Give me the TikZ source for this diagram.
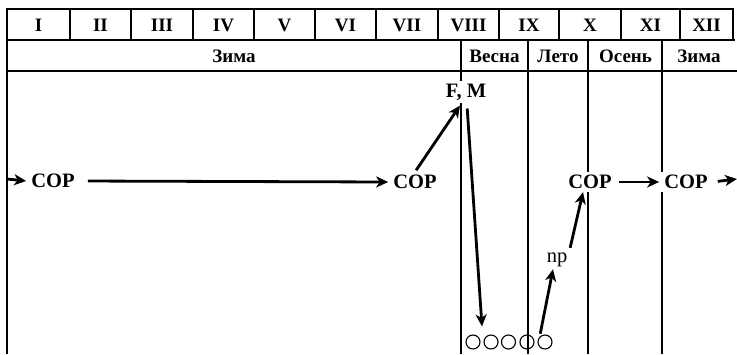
\documentclass[tikz,border=0pt]{standalone}
\usepackage{fontspec}
\setmainfont{Liberation Serif}
\usetikzlibrary{arrows.meta,positioning,calc}

\tikzset{
  hdr/.style={font=\fontsize{19}{22}\selectfont\bfseries,inner sep=0pt},
  stage/.style={font=\fontsize{20.5}{23}\selectfont\bfseries,fill=white,inner xsep=5pt,inner ysep=3pt},
  larva/.style={draw,circle,line width=1.1pt,minimum size=14pt,inner sep=0pt},
  frame/.style={line width=1.8pt},
  divider/.style={line width=1.2pt},
  flow/.style={->,line width=2.8pt}
}

\begin{document}
\begin{tikzpicture}[>={Stealth[length=12pt,width=11pt,inset=3.5pt]},x=1pt,y=-1pt]
\useasboundingbox (0,0) rectangle (737,354);
% table frame
\draw[frame] (7,354) -- (7,9) -- (733,9) -- (733,40);
\draw[frame] (7,40) -- (735,40);
\draw[frame] (7,71) -- (737,71);
\draw[frame] (70,9) -- (70,40);
\draw[frame] (131,9) -- (131,40);
\draw[frame] (193,9) -- (193,40);
\draw[frame] (254,9) -- (254,40);
\draw[frame] (315,9) -- (315,40);
\draw[frame] (376,9) -- (376,40);
\draw[frame] (438,9) -- (438,40);
\draw[frame] (499,9) -- (499,40);
\draw[frame] (559,9) -- (559,40);
\draw[frame] (621,9) -- (621,40);
\draw[frame] (680,9) -- (680,40);
% season borders
\draw[divider] (461,40) -- (461,354);
\draw[divider] (528,40) -- (528,354);
\draw[divider] (588,40) -- (588,354);
\draw[divider] (662,40) -- (662,354);
% months
\node[hdr] (m1) at (38.5,25) {I};
\node[hdr] (m2) at (100.5,25) {II};
\node[hdr] (m3) at (162,25) {III};
\node[hdr] (m4) at (223.5,25) {IV};
\node[hdr] (m5) at (284.5,25) {V};
\node[hdr] (m6) at (345.5,25) {VI};
\node[hdr] (m7) at (407,25) {VII};
\node[hdr] (m8) at (468.5,25) {VIII};
\node[hdr] (m9) at (529,25) {IX};
\node[hdr] (m10) at (590,25) {X};
\node[hdr] (m11) at (650.5,25) {XI};
\node[hdr] (m12) at (706.5,25) {XII};
% seasons
\node[hdr] (winter) at (234,56) {Зима};
\node[hdr] (spring) at (494.5,56) {Весна};
\node[hdr] (summer) at (558,56) {Лето};
\node[hdr] (autumn) at (625.5,56) {Осень};
\node[hdr] (winter2) at (699,56) {Зима};
% stages
\node[stage] (cop1) at (53,181) {COP};
\node[stage] (cop2) at (415,182) {COP};
\node[stage] (cop3) at (590,182) {COP};
\node[stage] (cop4) at (686,182) {COP};
\node[stage] (fm) at (466,92) {F, M};
\node[font=\fontsize{20.5}{23}\selectfont,inner sep=2pt] (np) at (557,260) {np};
\node[larva] (c1) at (473,342) {};
\node[larva] (c2) at (491,342) {};
\node[larva] (c3) at (508.5,342) {};
\node[larva] (c4) at (527,342) {};
\node[larva] (c5) at (545,342) {};
\coordinate (in) at (7,179);
\coordinate (out) at (737,179);
% arrows
\draw[flow] (in) -- (cop1.west);
\draw[flow,shorten <=8pt] (cop1.east) -- (cop2.west);
\draw[flow,shorten <=2pt] (cop3.east) -- (cop4.west);
\draw[flow,shorten <=5pt] (cop4.east) -- (out);
\draw[flow,shorten <=2pt] (cop2.north) -- ([xshift=-6pt,yshift=-2pt]fm.south);
\draw[flow,shorten <=3pt] ([xshift=1pt,yshift=-2pt]fm.south) -- ([xshift=9pt,yshift=8pt]c1.north);
\draw[flow,shorten <=3pt] (c5.north west) -- ([xshift=-4pt]np.south);
\draw[flow,shorten <=3pt] (np.north east) -- ([xshift=-7pt]cop3.south);
\end{tikzpicture}
\end{document}
